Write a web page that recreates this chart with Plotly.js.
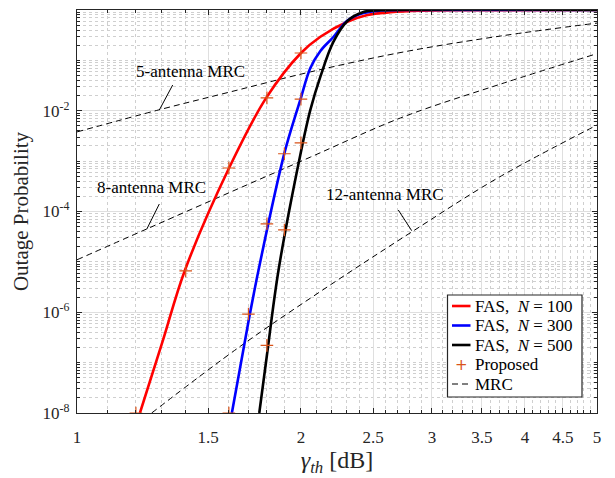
<!DOCTYPE html>
<html><head><meta charset="utf-8">
<script src="https://cdn.plot.ly/plotly-3.0.1.min.js"></script>
<style>html,body{margin:0;padding:0;background:#fff}#chart{width:615px;height:478px}</style>
</head><body><div id="chart"></div>
<script>
// ---- data ----
const fas100X = [1.215, 1.303, 1.397, 1.601, 1.796, 2.0, 2.124, 2.309, 2.457, 2.639, 2.90, 3.28, 5.0];
const fas100Y = [1e-8, 2.6e-7, 6.9e-6, 7.3e-4, 0.018, 0.14, 0.295, 0.586, 0.796, 0.90, 0.964, 0.99, 1.0];

const fas300X = [1.615, 1.70, 1.754, 1.899, 1.996, 2.059, 2.124, 2.211, 2.309, 2.427, 2.559, 2.90, 5.0];
const fas300Y = [1e-8, 6.5e-7, 6.9e-6, 1.39e-3, 0.0164, 0.0707, 0.154, 0.291, 0.619, 0.872, 0.977, 1.0, 1.0];

const fas500X = [1.758, 1.80, 1.866, 1.996, 2.059, 2.124, 2.211, 2.309, 2.427, 2.559, 5.0];
const fas500Y = [1e-8, 1.4e-7, 6.9e-6, 1.33e-3, 0.0104, 0.0475, 0.232, 0.605, 0.913, 0.99, 1.0];

const prop100X = [1.2, 1.4, 1.6, 1.8, 2.0];
const prop100Y = [1e-8, 6.6e-6, 7.3e-4, 0.018, 0.14];
const prop300X = [1.6, 1.7, 1.8, 1.9, 2.0];
const prop300Y = [1e-8, 9.2e-7, 5.7e-5, 1.4e-3, 0.017];
const prop500X = [1.8, 1.9, 2.0];
const prop500Y = [2.2e-7, 4.3e-5, 2.3e-3];

const mrc5X = [1.0, 1.288, 1.606, 2.059, 2.748, 3.713, 5.0];
const mrc5Y = [3.8e-3, 0.0104, 0.0236, 0.059, 0.147, 0.305, 0.55];
const mrc8X = [1.0, 1.241, 1.6, 2.059, 2.722, 3.713, 5.0];
const mrc8Y = [1.1e-5, 4.5e-5, 2.35e-4, 1.2e-3, 7.2e-3, 0.034, 0.136];
const mrc12X = [1.26, 1.657, 2.191, 2.823, 3.675, 5.0];
const mrc12Y = [1e-8, 2.1e-7, 3.5e-6, 4.0e-5, 4.6e-4, 5.2e-3];

const xTickVals = [1, 1.5, 2, 2.5, 3, 3.5, 4, 4.5, 5];
const xTickText = ['1', '1.5', '2', '2.5', '3', '3.5', '4', '4.5', '5'];
const yTickVals = [1e-8, 1e-6, 1e-4, 1e-2, 1];
const yTickText = ['10<sup>-8</sup>', '10<sup>-6</sup>', '10<sup>-4</sup>', '10<sup>-2</sup>', '10<sup>0</sup>'];

const legendLabels = ['FAS,\u00a0 <i>N</i> = 100', 'FAS,\u00a0 <i>N</i> = 300', 'FAS,\u00a0 <i>N</i> = 500', 'Proposed', 'MRC'];
const mrcLabels = ['5-antenna MRC', '8-antenna MRC', '12-antenna MRC'];

// ---- styling / layout ----
const FONT = 'Liberation Serif, Times New Roman, serif';
const TXT = '#262626';
const ORANGE = '#D95319';
const L = 77, R = 597, T = 10, B = 413;
const px = v => (v - L) / (R - L);
const py = v => (B - v) / (B - T);

// minor grid positions
const xMinor = [];
for (let i = 11; i < 50; i++) { if (i % 5 !== 0) xMinor.push(i / 10); }
const yMinor = [];
for (let k = -8; k < 0; k++) {
  for (let m = 1; m <= 9; m++) {
    if (m === 1 && (k % 2 === 0)) continue;
    yMinor.push(m * Math.pow(10, k));
  }
}

const mrcLine = {color: '#000', width: 1, dash: '6px,4px', shape: 'spline', smoothing: 1};
const fasLine = c => ({color: c, width: 2.6, shape: 'spline', smoothing: 1});
const plus = {symbol: 'cross-thin', size: 9, line: {color: ORANGE, width: 1.2}};
const traces = [
  {x: mrc5X, y: mrc5Y, mode: 'lines', line: mrcLine},
  {x: mrc8X, y: mrc8Y, mode: 'lines', line: mrcLine},
  {x: mrc12X, y: mrc12Y, mode: 'lines', line: mrcLine},
  {x: fas100X, y: fas100Y, mode: 'lines', line: fasLine('#ff0000')},
  {x: fas300X, y: fas300Y, mode: 'lines', line: fasLine('#0000ff')},
  {x: fas500X, y: fas500Y, mode: 'lines', line: fasLine('#000000')},
  {x: prop100X, y: prop100Y, mode: 'markers', marker: plus},
  {x: prop300X, y: prop300Y, mode: 'markers', marker: plus},
  {x: prop500X, y: prop500Y, mode: 'markers', marker: plus}
].map(t => Object.assign({type: 'scatter', showlegend: false, hoverinfo: 'skip', cliponaxis: true}, t));

const shapes = [];
const annotations = [];

// MRC labels and pointers
const mrcLabelPos = [[190.7, 71.5], [151.7, 187.5], [385, 194]];
const mrcPointers = [[172.7, 85, 159.3, 110], [159.3, 204, 146.7, 229.3], [398.3, 210, 411.7, 230.7]];
mrcLabels.forEach((t, i) => {
  annotations.push({xref: 'paper', yref: 'paper', x: px(mrcLabelPos[i][0]), y: py(mrcLabelPos[i][1]),
    text: t, showarrow: false, xanchor: 'center', yanchor: 'middle',
    font: {family: FONT, size: 17, color: '#000'}});
  const p = mrcPointers[i];
  shapes.push({type: 'line', xref: 'paper', yref: 'paper', x0: px(p[0]), y0: py(p[1]), x1: px(p[2]), y1: py(p[3]),
    line: {color: '#000', width: 1}});
});

// custom legend
shapes.push({type: 'rect', xref: 'paper', yref: 'paper', x0: px(447.5), y0: py(295), x1: px(582), y1: py(397),
  fillcolor: '#fff', line: {color: '#262626', width: 1.2}, layer: 'above'});
const rowY = [306, 325.5, 345, 364.5, 384];
const sampleColors = ['#ff0000', '#0000ff', '#000000'];
for (let i = 0; i < 3; i++) {
  shapes.push({type: 'line', xref: 'paper', yref: 'paper', x0: px(452), x1: px(470.5), y0: py(rowY[i]), y1: py(rowY[i]),
    line: {color: sampleColors[i], width: 2.6}, layer: 'above'});
}
shapes.push({type: 'line', xref: 'paper', yref: 'paper', x0: px(452), x1: px(470.5), y0: py(rowY[4]), y1: py(rowY[4]),
  line: {color: '#000', width: 1, dash: '6px,4px'}, layer: 'above'});
annotations.push({xref: 'paper', yref: 'paper', x: px(461.3), y: py(rowY[3]), text: '+', showarrow: false,
  xanchor: 'center', yanchor: 'middle', font: {family: 'DejaVu Sans, sans-serif', size: 15, color: ORANGE}});
legendLabels.forEach((t, i) => {
  annotations.push({xref: 'paper', yref: 'paper', x: px(472.5), y: py(rowY[i]), text: t, showarrow: false,
    xanchor: 'left', yanchor: 'middle', font: {family: FONT, size: 17, color: '#000'}});
});

const axisCommon = {
  showline: true, linecolor: TXT, linewidth: 1.2, mirror: 'allticks',
  ticks: 'inside', ticklen: 5, tickwidth: 1, tickcolor: TXT,
  showgrid: true, gridcolor: '#dfdfdf', gridwidth: 1, zeroline: false,
  tickfont: {family: FONT, size: 17, color: TXT},
  tickmode: 'array'
};

const layout = {
  width: 615, height: 478,
  margin: {l: L, r: 615 - R, t: T, b: 478 - B},
  paper_bgcolor: '#fff', plot_bgcolor: '#fff',
  showlegend: false,
  xaxis: Object.assign({}, axisCommon, {
    type: 'log', range: [0, Math.log10(5)],
    tickvals: xTickVals, ticktext: xTickText, ticklabelstandoff: 8,
    minor: {tickmode: 'array', tickvals: xMinor, ticks: 'inside', ticklen: 3, tickcolor: TXT,
      showgrid: true, gridcolor: '#cfcfcf', griddash: 'dot', gridwidth: 1},
    title: {text: '<i>γ</i><sub><i>th</i></sub> [dB]', font: {family: FONT, size: 24, color: TXT}, standoff: 4}
  }),
  yaxis: Object.assign({}, axisCommon, {
    type: 'log', range: [-8, 0],
    tickvals: yTickVals, ticktext: yTickText, ticklabelstandoff: 3,
    minor: {tickmode: 'array', tickvals: yMinor, ticks: 'inside', ticklen: 3, tickcolor: TXT,
      showgrid: true, gridcolor: '#cfcfcf', griddash: 'dot', gridwidth: 1},
    title: {text: 'Outage Probability', font: {family: FONT, size: 21, color: TXT}, standoff: 8}
  }),
  shapes: shapes,
  annotations: annotations
};

Plotly.newPlot('chart', traces, layout, {staticPlot: true, displayModeBar: false});
</script></body></html>
